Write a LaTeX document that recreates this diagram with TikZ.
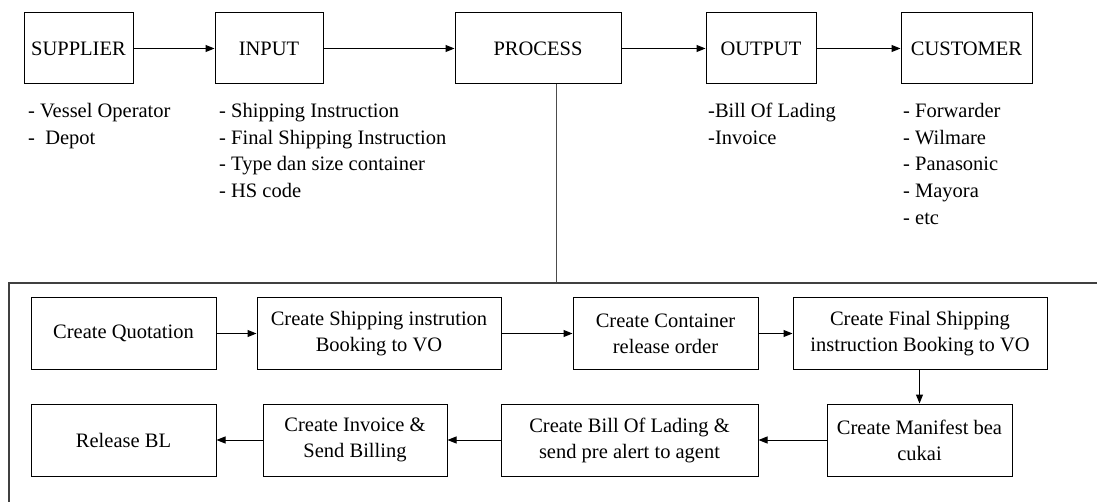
\documentclass[tikz,border=0pt]{standalone}
\usepackage{fontspec}
\setmainfont{Liberation Serif}
\newfontfamily\boxfont{Liberation Serif}
\usepackage{tikz}
\usetikzlibrary{arrows.meta, positioning, calc}

\begin{document}
\begin{tikzpicture}[x=1pt, y=-1pt,
    every node/.style={font=\boxfont\fontsize{20.5}{26}\selectfont},
    box/.style={draw, line width=1pt, inner sep=0pt, align=center, minimum height=71pt},
    list/.style={inner sep=0pt, anchor=north west, align=left, font=\boxfont\fontsize{20.5}{26.7}\selectfont},
    flow/.style={-{Triangle[length=9pt, width=7pt]}, line width=1pt}]
    \useasboundingbox (0,0) rectangle (1097,502);

    % main chain
    \node[box, minimum width=109pt] (supplier) at (78.5, 48.5) {SUPPLIER};
    \node[box, minimum width=108pt] (input) at (269, 48.5) {INPUT};
    \node[box, minimum width=166pt] (process) at (538, 48.5) {PROCESS};
    \node[box, minimum width=110pt] (output) at (761, 48.5) {OUTPUT};
    \node[box, minimum width=131pt] (customer) at (966.5, 48.5) {CUSTOMER};
    \draw[flow] (supplier) -- (input);
    \draw[flow] (input) -- (process);
    \draw[flow] (process) -- (output);
    \draw[flow] (output) -- (customer);

    % lists under the boxes
    \node[list] (suplist) at (28, 103) {- Vessel Operator\\-\ \ Depot};
    \node[list] (inlist) at (219, 103) {- Shipping Instruction\\- Final Shipping Instruction\\- Type dan size container\\- HS code};
    \node[list] (outlist) at (708, 103) {-Bill Of Lading\\-Invoice};
    \node[list] (custlist) at (903, 103) {- Forwarder\\- Wilmare\\- Panasonic\\- Mayora\\- etc};

    % process detail frame
    \coordinate (drop) at (556, 283);
    \draw[black!70, line width=1pt] (process.south -| drop) -- (drop);
    \draw[black!75, line width=1.2pt] (9, 502) -- (9, 283) -- (1097, 283);

    \node[box, minimum width=185pt] (quote) at (123.5, 333.5) {Create Quotation};
    \node[box, minimum width=244pt] (shipinst) at (379, 333.5) {Create Shipping instrution\\Booking to VO};
    \node[box, minimum width=185pt] (cro) at (665.5, 333.5) {Create Container\\release order};
    \node[box, minimum width=254pt] (finalsi) at (920, 333.5) {Create Final Shipping\\instruction Booking to VO};
    \node[box, minimum width=185pt, minimum height=72pt] (releasebl) at (123.5, 440) {Release BL};
    \node[box, minimum width=184pt, minimum height=72pt] (invoice) at (355, 440) {Create Invoice \&\\Send Billing};
    \node[box, minimum width=257pt, minimum height=72pt] (bol) at (629.5, 440) {Create Bill Of Lading \&\\send pre alert to agent};
    \node[box, minimum width=185pt, minimum height=72pt] (manifest) at (919.5, 440) {Create Manifest bea\\cukai};

    \draw[flow] (quote) -- (shipinst);
    \draw[flow] (shipinst) -- (cro);
    \draw[flow] (cro) -- (finalsi);
    \draw[flow] (finalsi.south -| manifest) -- (manifest);
    \draw[flow] (manifest) -- (bol);
    \draw[flow] (bol) -- (invoice);
    \draw[flow] (invoice) -- (releasebl);
\end{tikzpicture}
\end{document}
